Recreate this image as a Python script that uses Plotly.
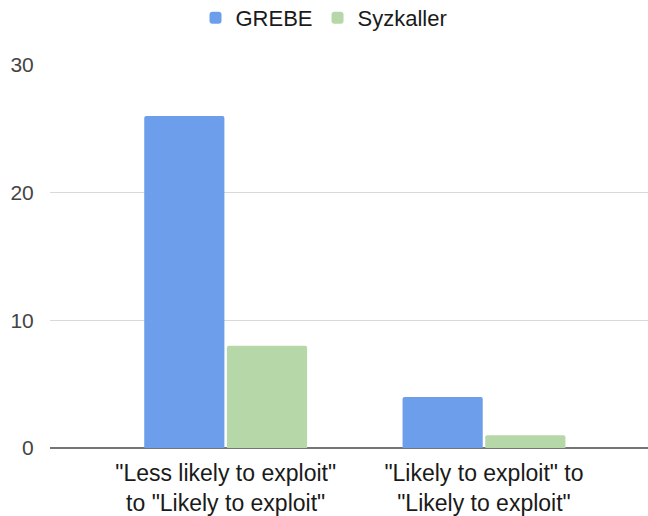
import plotly.graph_objects as go

categories = ['"Less likely to exploit"<br>to "Likely to exploit"', '"Likely to exploit" to<br>"Likely to exploit"']
grebe = [26, 4]
syzkaller = [8, 1]
y_ticks = [0, 10, 20, 30]

fig = go.Figure()
fig.add_trace(go.Bar(name="GREBE", x=categories, y=grebe, marker=dict(color="#6d9eeb", cornerradius=2, line=dict(width=0))))
fig.add_trace(go.Bar(name="Syzkaller", x=categories, y=syzkaller, marker=dict(color="#b6d7a8", cornerradius=2, line=dict(width=0))))

fig.update_layout(
    width=648, height=516,
    margin=dict(l=50, r=0, t=65, b=68),
    paper_bgcolor="white", plot_bgcolor="white",
    font=dict(family="Liberation Sans, Arial, sans-serif", color="#1a1a1a"),
    barmode="group", bargap=0.36, bargroupgap=0.03,
    legend=dict(orientation="h", xref="container", x=0.5, xanchor="center", yref="container", y=0.965, yanchor="middle",
                font=dict(size=22, color="#1a1a1a"), itemwidth=30),
    showlegend=True,
)
fig.update_xaxes(range=[-0.68, 1.635], showline=False, showgrid=False, ticks="outside", ticklen=4,
                 tickcolor="rgba(0,0,0,0)", tickfont=dict(size=23, color="#1a1a1a"))
fig.update_yaxes(range=[0, 30], tickvals=y_ticks, showgrid=True, gridcolor="#d9d9d9", gridwidth=1,
                 zeroline=True, zerolinecolor="#757575", zerolinewidth=2,
                 ticks="outside", ticklen=11, tickcolor="rgba(0,0,0,0)",
                 tickfont=dict(size=21, color="#444444"), showline=False)

fig.write_html("out.html")
